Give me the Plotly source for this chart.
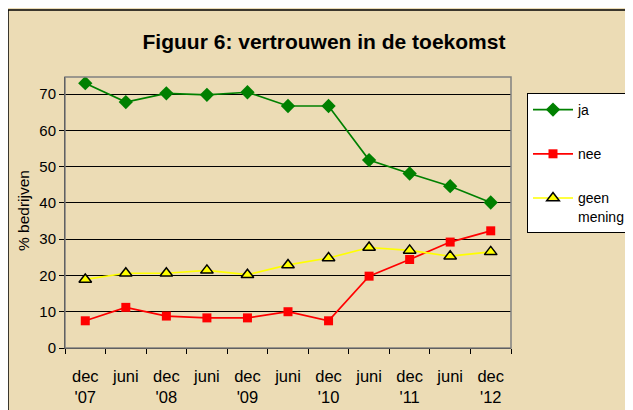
import plotly.graph_objects as go

categories = ["dec '07", "juni '08", "dec '08", "juni '09", "dec '09", "juni '10",
              "dec '10", "juni '11", "dec '11", "juni '12", "dec '12"]
tick_labels = ["dec<br>'07", "juni", "dec<br>'08", "juni", "dec<br>'09", "juni",
               "dec<br>'10", "juni", "dec<br>'11", "juni", "dec<br>'12"]
ja = [73.0, 67.8, 70.2, 69.8, 70.5, 66.7, 66.7, 51.8, 48.1, 44.6, 40.1]
nee = [7.5, 11.2, 8.8, 8.3, 8.3, 10.0, 7.5, 19.8, 24.4, 29.2, 32.3]
geen_mening = [18.9, 20.6, 20.6, 21.4, 20.2, 22.9, 24.8, 27.7, 26.9, 25.3, 26.5]

FONT = "Liberation Sans, Arial, sans-serif"

fig = go.Figure()
fig.add_trace(go.Scatter(
    x=categories, y=ja, name="ja", mode="lines+markers", legendgroup="a",
    line=dict(color="#008000", width=1.7),
    marker=dict(symbol="diamond", size=11, color="#008000")))
fig.add_trace(go.Scatter(
    x=categories, y=nee, name="nee", mode="lines+markers", legendgroup="b",
    line=dict(color="#ff0000", width=1.7),
    marker=dict(symbol="square", size=9, color="#ff0000")))
fig.add_trace(go.Scatter(
    x=categories, y=geen_mening, name="geen<br>mening", mode="lines+markers", legendgroup="c",
    line=dict(color="#ffff00", width=1.7),
    marker=dict(symbol="triangle-up", size=11, color="#ffff00",
                line=dict(color="#000000", width=1.5))))

# page offset of the figure inside the html body (default body margin)
OX, OY = 8, 8
# plot area in screenshot pixels
L, R, T, B = 65 - OX, 511 - OX, 77 - OY, 348 - OY
W, H = R - L, B - T

def px_x(p):
    return (p - OX - L) / W

def px_y(p):
    return (B - (p - OY)) / H

fig.update_layout(
    width=633, height=410,
    margin=dict(l=L, r=633 - R, t=T, b=410 - B, autoexpand=False),
    paper_bgcolor="#ecdcb5",
    plot_bgcolor="#c0c0c0",
    font=dict(family=FONT, size=15, color="#000000"),
    title=dict(text="<b>Figuur 6: vertrouwen in de toekomst</b>",
               x=(324 - OX) / 633, xanchor="center", y=1 - (42 - OY) / 410, yanchor="middle",
               font=dict(family=FONT, size=21, color="#000000")),
    showlegend=True,
    legend=dict(x=px_x(527), y=px_y(93), xanchor="left", yanchor="top",
                bgcolor="#ffffff", bordercolor="#000000", borderwidth=1,
                font=dict(family=FONT, size=14, color="#000000"),
                tracegroupgap=23, valign="top", itemwidth=40),
    shapes=[
        dict(type="rect", xref="paper", yref="paper", layer="below",
             x0=px_x(8), x1=px_x(660), y0=px_y(440), y1=px_y(10),
             fillcolor="#ecdcb5", line=dict(color="#000000", width=1.5)),
        dict(type="rect", xref="paper", yref="paper", layer="above",
             x0=0, x1=1, y0=0, y1=1,
             fillcolor="rgba(0,0,0,0)", line=dict(color="#808080", width=1.5)),
    ],
    annotations=[
        dict(text="% bedrijven", xref="paper", yref="paper",
             x=px_x(23), y=px_y(211), xanchor="center", yanchor="middle",
             textangle=-90, showarrow=False,
             font=dict(family=FONT, size=15.5, color="#000000")),
    ],
)

fig.update_xaxes(
    type="category", range=[-0.5, 10.5], automargin=False,
    tickmode="array", tickvals=categories, ticktext=tick_labels,
    showgrid=False, showline=True, linecolor="#000000", linewidth=1,
    ticks="outside", tickson="boundaries", ticklen=5, tickcolor="#000000",
    tickangle=0, ticklabelstandoff=13,
    tickfont=dict(family=FONT, size=16.5, color="#000000"),
)
fig.update_yaxes(
    range=[0, 74.7], dtick=10, tick0=0, automargin=False,
    showgrid=True, gridcolor="#000000", gridwidth=1,
    zeroline=False, showline=True, linecolor="#000000", linewidth=1,
    ticks="outside", ticklen=5, tickcolor="#000000",
    tickfont=dict(family=FONT, size=15, color="#000000"),
)

fig.write_html("out.html")
